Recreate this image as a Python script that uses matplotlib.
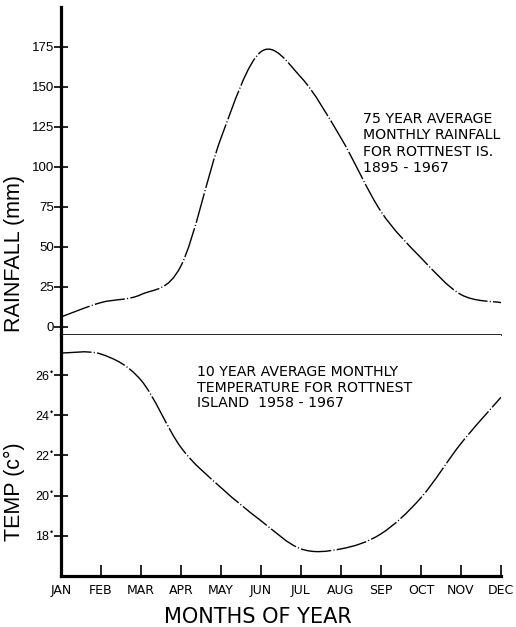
import matplotlib
matplotlib.use("Agg")
import matplotlib.pyplot as plt
import numpy as np
from matplotlib.path import Path
from matplotlib.patches import PathPatch

months = ["JAN", "FEB", "MAR", "APR", "MAY", "JUN",
          "JUL", "AUG", "SEP", "OCT", "NOV", "DEC"]
rainfall_mm = [6, 15, 20, 38, 118, 172, 156, 118, 72, 43, 20, 15]
temp_c = [27.1, 27.05, 25.75, 22.4, 20.4, 18.75, 17.35, 17.35, 18.1, 19.9, 22.6, 24.9]

rain_ticks = [0, 25, 50, 75, 100, 125, 150, 175]
temp_ticks = [18, 20, 22, 24, 26]

rain_note = "75 YEAR AVERAGE\nMONTHLY RAINFALL\nFOR ROTTNEST IS.\n1895 - 1967"
temp_note = "10 YEAR AVERAGE MONTHLY\nTEMPERATURE FOR ROTTNEST\nISLAND  1958 - 1967"

plt.rcParams["font.family"] = ["Liberation Sans", "DejaVu Sans"]
plt.rcParams["mathtext.fontset"] = "custom"
plt.rcParams["mathtext.rm"] = "Liberation Sans"
plt.rcParams["mathtext.it"] = "Liberation Sans"
LETTERING = "DejaVu Sans"
DASH = (0, (22, 1.6, 0.8, 1.6))


def smooth_path(xs, ys):
    # catmull-rom through the monthly values, handed to matplotlib as cubic beziers
    p = np.column_stack([xs, ys]).astype(float)
    ext = np.vstack([p[0], p, p[-1]])
    verts = [p[0]]
    codes = [Path.MOVETO]
    for i in range(len(p) - 1):
        p0, p1, p2, p3 = ext[i], ext[i + 1], ext[i + 2], ext[i + 3]
        verts += [p1 + (p2 - p0) / 6, p2 - (p3 - p1) / 6, p2]
        codes += [Path.CURVE4] * 3
    return Path(verts, codes)


x = np.arange(len(months))

fig = plt.figure(figsize=(5.16, 6.27), dpi=100)
ax1 = fig.add_axes([61 / 516, 292 / 627, 440 / 516, 328 / 627])
ax2 = fig.add_axes([61 / 516, 51 / 627, 440 / 516, 241 / 627])

# rainfall panel
ax1.add_patch(PathPatch(smooth_path(x, rainfall_mm), fill=False, color="black",
                        lw=1.0, linestyle=DASH))
ax1.set_xlim(0, 11)
ax1.set_ylim(-5.3, 200)
ax1.set_xticks([])
ax1.set_yticks(rain_ticks)
ax1.set_yticklabels([str(t) for t in rain_ticks], fontsize=9.5)
ax1.tick_params(axis="y", direction="inout", length=10, width=1.2, pad=0)
for s in ["top", "right"]:
    ax1.spines[s].set_visible(False)
ax1.spines["left"].set_linewidth(2.3)
ax1.spines["bottom"].set_linewidth(1.2)
ax1.set_ylabel("RAINFALL (mm)", fontsize=15.5)
ax1.yaxis.set_label_coords(-0.082, 0.25)
ax1.text(0.686, 0.68, rain_note, transform=ax1.transAxes, family=LETTERING,
         fontsize=10.2, va="top", ha="left", linespacing=1.22)

# temperature panel, degree dot raised after each tick value
ax2.add_patch(PathPatch(smooth_path(x, temp_c), fill=False, color="black",
                        lw=1.0, linestyle=DASH))
ax2.set_xlim(0, 11)
ax2.set_ylim(16, 28)
ax2.set_yticks(temp_ticks)
ax2.set_yticklabels([f"{t}$^{{\u2022}}$" for t in temp_ticks], fontsize=9)
ax2.tick_params(axis="y", direction="inout", length=10, width=1.2, pad=0)
ax2.set_xticks(x)
ax2.set_xticklabels(months, family=LETTERING, fontsize=9)
ax2.tick_params(axis="x", direction="in", length=8, width=1.2, pad=6)
for s in ["top", "right"]:
    ax2.spines[s].set_visible(False)
ax2.spines["left"].set_linewidth(2.3)
ax2.spines["bottom"].set_linewidth(2.3)
ax2.set_ylabel("TEMP (c\u00b0)", fontsize=15.5)
ax2.yaxis.set_label_coords(-0.082, 0.35)
ax2.text(0.309, 0.875, temp_note, transform=ax2.transAxes, family=LETTERING,
         fontsize=10.2, va="top", ha="left", linespacing=1.15)

fig.text(0.5, 0.016, "MONTHS OF YEAR", family=LETTERING, fontsize=15,
         ha="center", va="center")

fig.savefig("out.png", dpi=100)
